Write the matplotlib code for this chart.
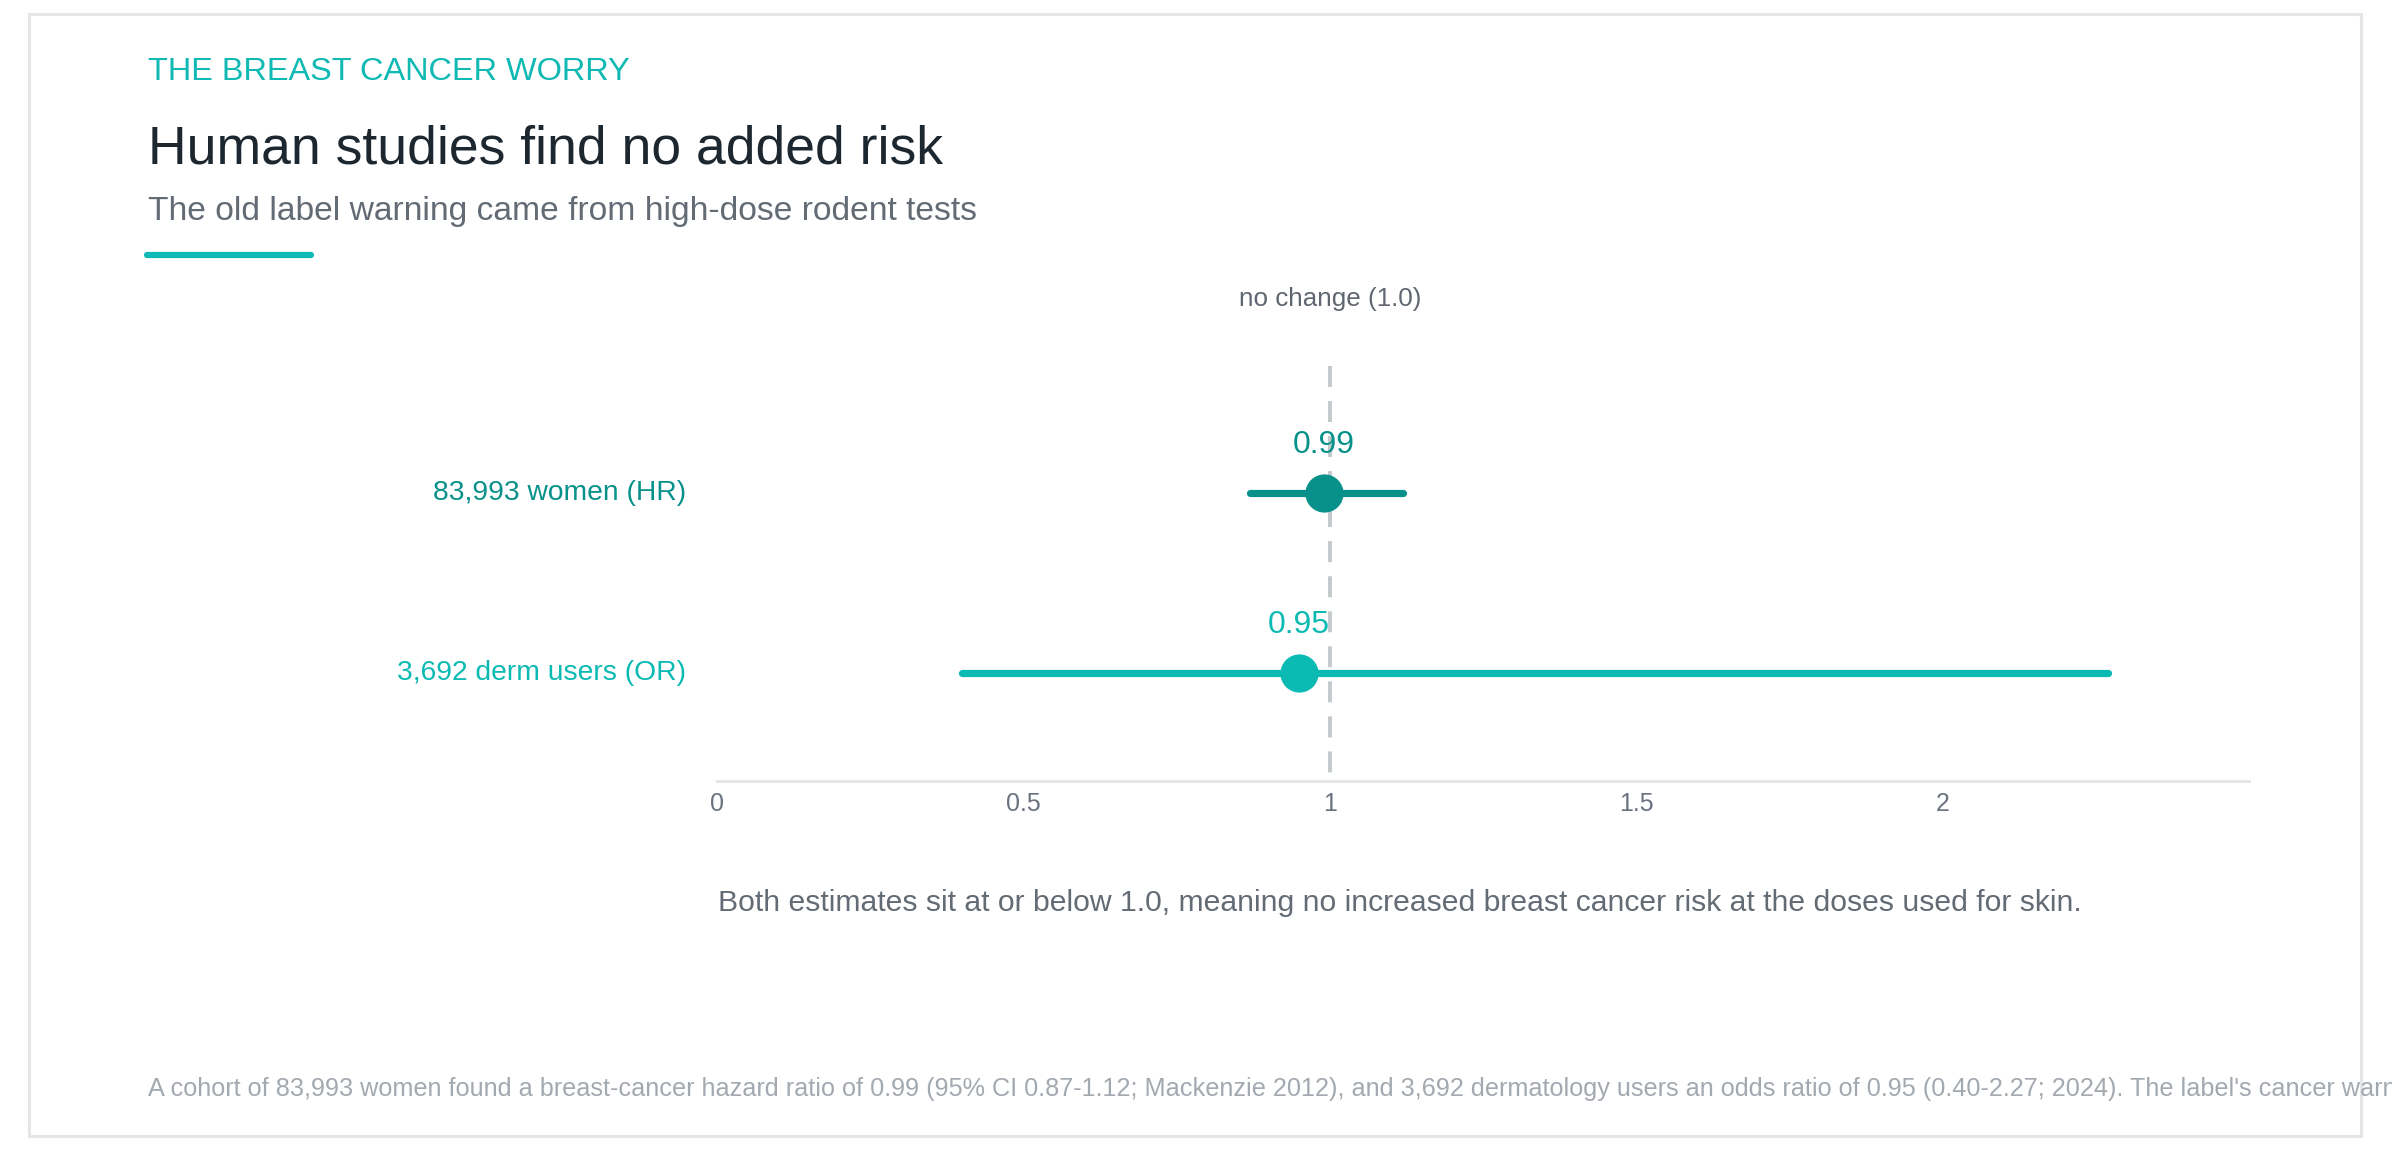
import numpy as np
import matplotlib.pyplot as plt
from matplotlib.patches import Rectangle
from matplotlib.lines import Line2D

# data
studies = ["83,993 women (HR)", "3,692 derm users (OR)"]
estimates = [0.99, 0.95]
ci_low = [0.87, 0.40]
ci_high = [1.12, 2.27]
colors = ["#08918a", "#0cbab4"]
x_ticks = [0, 0.5, 1, 1.5, 2]
x_tick_labels = ["0", "0.5", "1", "1.5", "2"]

W, H = 2392, 1150
plt.rcParams['font.family'] = ['Liberation Sans', 'DejaVu Sans']

fig = plt.figure(figsize=(W / 100, H / 100), dpi=100)
fig.patch.set_facecolor("white")

def fx(px):
    return px / W

def fy(py):
    return 1 - py / H

# card border
fig.add_artist(Rectangle((fx(29), fy(1136)), fx(2361) - fx(29), fy(14) - fy(1136),
                         transform=fig.transFigure, fill=False, edgecolor="#e4e7ea", lw=2.2))

# header
fig.text(fx(148), fy(80), "THE BREAST CANCER WORRY", color="#10b9b3", fontsize=23.4, va="baseline")
fig.text(fx(148), fy(163), "Human studies find no added risk", color="#1d2730", fontsize=38.5, va="baseline")
fig.text(fx(148), fy(220), "The old label warning came from high-dose rodent tests", color="#636b75", fontsize=24.2, va="baseline")
fig.add_artist(Line2D([fx(147), fx(311)], [fy(255), fy(255)], transform=fig.transFigure,
                      color="#10b9b3", lw=4.5, solid_capstyle="round"))

# plot area
left, right = 717, 2249
top, bottom = 366, 781
ylo, yhi = 1.6, -0.7056
ax = fig.add_axes([fx(left), fy(bottom), fx(right) - fx(left), fy(top) - fy(bottom)])
ax.set_xlim(0, 2.5)
ax.set_ylim(ylo, yhi)
for s in ["top", "right", "left"]:
    ax.spines[s].set_visible(False)
ax.spines["bottom"].set_color("#e4e7ea")
ax.spines["bottom"].set_linewidth(2.2)
ax.set_yticks([])
ax.set_xticks(x_ticks)
ax.set_xticklabels(x_tick_labels, fontsize=18, color="#6b7280")
ax.tick_params(axis="x", length=0, pad=8)
ax.patch.set_alpha(0)

# reference line at 1.0, drawn top to bottom so the dash pattern starts at the top
ax.plot([1.0, 1.0], [yhi, ylo], color="#c5cacd", lw=2.9, dashes=(5.2, 3.5), zorder=1, clip_on=False)

for i in range(len(studies)):
    ax.plot([ci_low[i], ci_high[i]], [i, i], color=colors[i], lw=5.2, solid_capstyle="round", zorder=2)
    ax.plot(estimates[i], i, "o", ms=27.5, color=colors[i], zorder=3, markeredgewidth=0)
    ax.text(estimates[i], i - 0.225, "%.2f" % estimates[i], color=colors[i], fontsize=23,
            ha="center", va="baseline")
    fig.text(fx(686), fy(493 + 180 * i), studies[i], color=colors[i], fontsize=20.3,
             ha="right", va="center")

fig.text(fx(left + 1.0 * (right - left) / 2.5), fy(299), "no change (1.0)", ha="center", va="center",
         fontsize=18.7, color="#5f6670")

# annotation
fig.text(fx(718), fy(903), "Both estimates sit at or below 1.0, meaning no increased breast cancer risk at the doses used for skin.",
         color="#636b75", fontsize=21.7, va="center")

# footnote
fig.text(fx(148), fy(1089),
         "A cohort of 83,993 women found a breast-cancer hazard ratio of 0.99 (95% CI 0.87-1.12; Mackenzie 2012), "
         "and 3,692 dermatology users an odds ratio of 0.95 (0.40-2.27; 2024). The label's cancer warning rested on rodent data.",
         color="#a3a9b0", fontsize=18.2, va="center")

fig.savefig("out.png", dpi=100, facecolor="white")
